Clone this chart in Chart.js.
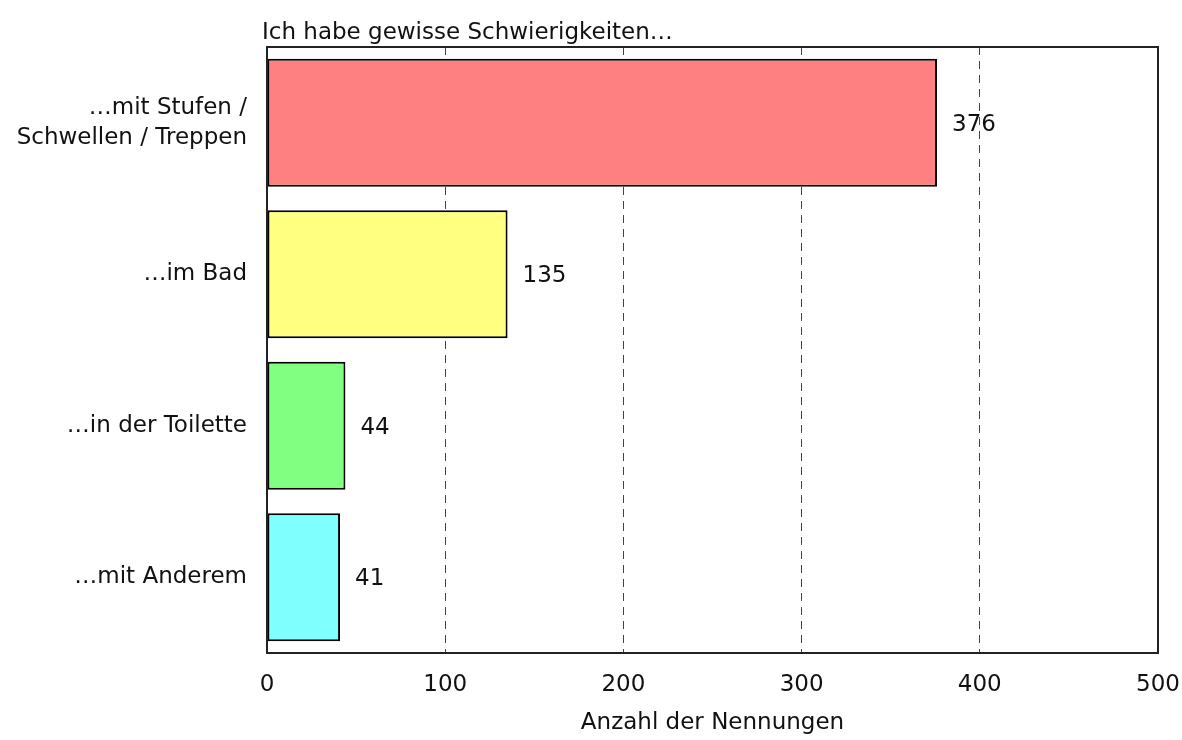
<!DOCTYPE html>
<html lang="de">
<head>
    <meta charset="UTF-8">
    <title>Schwierigkeiten</title>
    <script src="https://cdn.jsdelivr.net/npm/chart.js"></script>
    <style>
        body { margin: 0; padding: 0; background: #ffffff; }
        #wrap { width: 1182px; height: 740px; position: relative; }
    </style>
</head>
<body>
    <div id="wrap"><canvas id="chart"></canvas></div>
    <script>
        // Daten
        const categories = [
            ['…mit Stufen /', 'Schwellen / Treppen'],
            '…im Bad',
            '…in der Toilette',
            '…mit Anderem'
        ];
        const values = [376, 135, 44, 41];
        const barColors = ['#ff8080', '#ffff80', '#80ff80', '#80ffff'];
        const xTicks = [0, 100, 200, 300, 400, 500];
        const chartTitle = 'Ich habe gewisse Schwierigkeiten…';
        const xTitle = 'Anzahl der Nennungen';

        const FONT = 'DejaVu Sans';
        const FS = 23;

        // Rahmen, Titel und Wertbeschriftungen
        const extras = {
            id: 'extras',
            afterDatasetsDraw(chart) {
                const ctx = chart.ctx;
                const a = chart.chartArea;
                ctx.save();
                ctx.strokeStyle = '#222';
                ctx.lineWidth = 2;
                ctx.strokeRect(a.left, a.top, a.right - a.left, a.bottom - a.top);

                ctx.fillStyle = '#111';
                ctx.font = FS + 'px "' + FONT + '"';
                ctx.textAlign = 'left';
                ctx.textBaseline = 'middle';
                ctx.fillText(chartTitle, a.left - 5, a.top - 14);

                const meta = chart.getDatasetMeta(0);
                meta.data.forEach((bar, i) => {
                    ctx.fillText(String(values[i]), bar.x + 15, bar.y + 2);
                });
                ctx.restore();
            }
        };

        new Chart(document.getElementById('chart'), {
            type: 'bar',
            data: {
                labels: categories,
                datasets: [{
                    data: values,
                    backgroundColor: barColors,
                    borderColor: '#000',
                    borderWidth: 2,
                    borderSkipped: false,
                    categoryPercentage: 1,
                    barPercentage: 0.845
                }]
            },
            options: {
                indexAxis: 'y',
                responsive: true,
                maintainAspectRatio: false,
                animation: false,
                layout: { padding: { left: 0, top: 47, right: 24, bottom: 0 } },
                plugins: {
                    legend: { display: false },
                    tooltip: { enabled: false }
                },
                scales: {
                    x: {
                        min: 0,
                        max: 500,
                        afterBuildTicks: s => { s.ticks = xTicks.map(v => ({ value: v })); },
                        afterFit: s => { s.height = 87; s.paddingLeft = 0; s.paddingRight = 0; },
                        grid: {
                            drawTicks: false,
                            color: c => (c.tick && (c.tick.value === 0 || c.tick.value === 500)) ? 'rgba(0,0,0,0)' : '#444',
                            lineWidth: 1
                        },
                        border: { display: false, dash: [8, 6] },
                        ticks: {
                            padding: 18,
                            color: '#111',
                            font: { family: FONT, size: FS }
                        },
                        title: {
                            display: true,
                            text: xTitle,
                            color: '#111',
                            font: { family: FONT, size: FS },
                            padding: { top: 0, bottom: 3 }
                        }
                    },
                    y: {
                        afterFit: s => { s.width = 267; },
                        border: { display: false },
                        grid: { display: false },
                        ticks: {
                            padding: 12,
                            color: '#111',
                            font: { family: FONT, size: FS, lineHeight: 1.3 }
                        }
                    }
                }
            },
            plugins: [extras]
        });
    </script>
</body>
</html>
